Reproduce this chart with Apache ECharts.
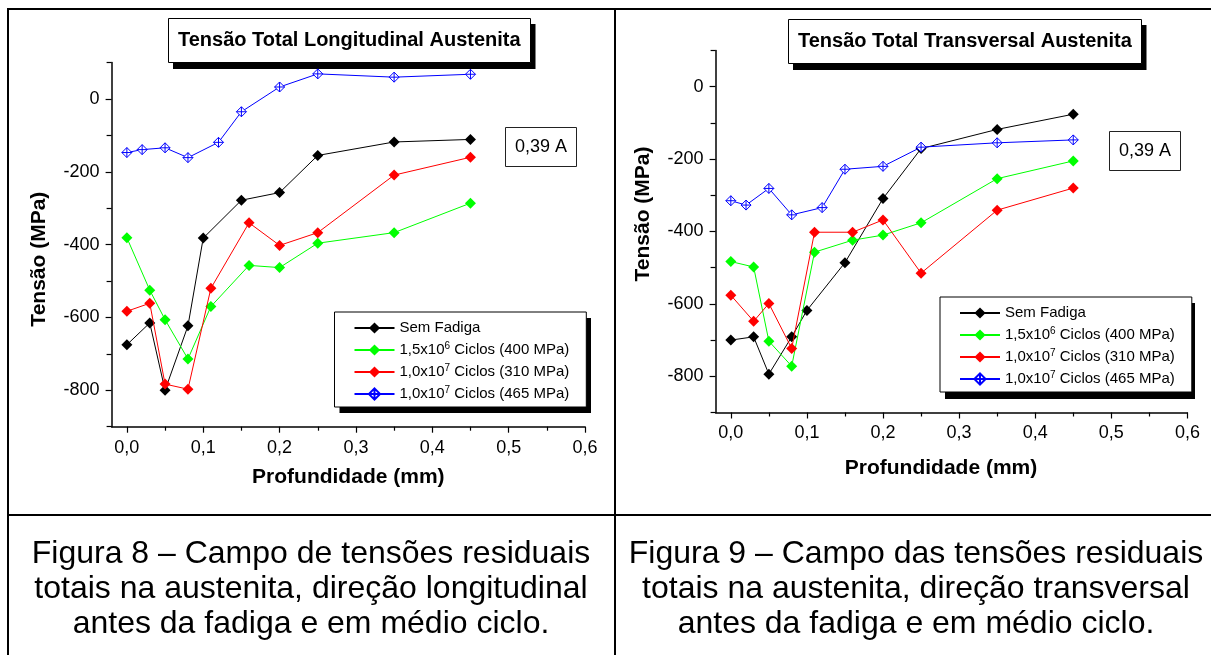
<!DOCTYPE html>
<html>
<head>
<meta charset="utf-8">
<script src="https://cdn.jsdelivr.net/npm/echarts@6/dist/echarts.min.js"></script>
<style>
html,body{margin:0;padding:0;background:#fff;}
#chart{width:1211px;height:655px;}
</style>
</head>
<body>
<div id="chart"></div>
<script>
// ---- data ----
const seriesNames = ['Sem Fadiga', '1,5x10^6 Ciclos (400 MPa)', '1,0x10^7 Ciclos (310 MPa)', '1,0x10^7 Ciclos (465 MPa)'];
const seriesColors = ['#000000', '#00ff00', '#ff0000', '#0000ff'];

const depthSem   = [0, 0.03, 0.05, 0.08, 0.10, 0.15, 0.20, 0.25, 0.35, 0.45];
const depth400   = [0, 0.03, 0.05, 0.08, 0.11, 0.16, 0.20, 0.25, 0.35, 0.45];
const depth310   = [0, 0.03, 0.05, 0.08, 0.11, 0.16, 0.20, 0.25, 0.35, 0.45];
const depth465   = [0, 0.02, 0.05, 0.08, 0.12, 0.15, 0.20, 0.25, 0.35, 0.45];

// Figura 8 - longitudinal
const longSem = [-675, -615, -800, -623, -382, -278, -257, -155, -118, -111];
const long400 = [-381, -525, -606, -714, -570, -457, -463, -396, -367, -286];
const long310 = [-583, -561, -783, -797, -520, -340, -402, -367, -209, -160];
const long465 = [-147, -139, -134, -161, -119, -35, 33, 69, 60, 68];

// Figura 9 - transversal
const transSem = [-700, -691, -794, -691, -618, -486, -309, -171, -118, -76];
const trans400 = [-483, -498, -703, -772, -457, -424, -410, -376, -254, -205];
const trans310 = [-576, -648, -599, -723, -402, -402, -368, -515, -341, -280];
const trans465 = [-315, -327, -281, -354, -334, -228, -220, -167, -155, -147];

const xMajorTicks = [0, 0.1, 0.2, 0.3, 0.4, 0.5, 0.6];
const xMinorTicks = [0.05, 0.15, 0.25, 0.35, 0.45, 0.55];
const yLabelTicks = [-800, -600, -400, -200, 0];
const yMinorTicks = [-900, -700, -500, -300, -100, 100];

const chartTitles = ['Tensão Total Longitudinal Austenita', 'Tensão Total Transversal Austenita'];
const boxLabel = '0,39 A';
const xName = 'Profundidade (mm)';
const yName = 'Tensão (MPa)';
const caption8 = ['Figura 8 – Campo de tensões residuais', 'totais na austenita, direção longitudinal', 'antes da fadiga e em médio ciclo.'];
const caption9 = ['Figura 9 – Campo das tensões residuais', 'totais na austenita, direção transversal', 'antes da fadiga e em médio ciclo.'];

// ---- build ----
const FONT = 'Liberation Sans, Arial, Helvetica, sans-serif';
const crossDiamond = 'path://M0,-10L10,0L0,10L-10,0Z M0,-10L0,10 M-10,0L10,0';

function pairs(xs, ys) { return xs.map((x, i) => [x, ys[i]]); }

function makeSeries(gi, xs, ys, idx) {
  const isBlue = idx === 3;
  return {
    type: 'line',
    name: seriesNames[idx],
    xAxisIndex: gi * 2,
    yAxisIndex: gi * 2,
    data: pairs(xs, ys),
    symbol: isBlue ? crossDiamond : 'diamond',
    symbolSize: isBlue ? 10 : 11,
    lineStyle: { color: seriesColors[idx], width: 1 },
    itemStyle: isBlue
      ? { color: '#ffffff', borderColor: seriesColors[idx], borderWidth: 1 }
      : { color: seriesColors[idx], borderWidth: 0 },
    emphasis: { disabled: true },
    z: 3 + idx
  };
}

function xAxes(gi) {
  const base = {
    gridIndex: gi, type: 'value', min: -0.02, max: 0.6, position: 'bottom',
    splitLine: { show: false }
  };
  return [
    Object.assign({}, base, {
      axisLine: { show: true, onZero: false, lineStyle: { color: '#000', width: 1.5 } },
      axisTick: { show: true, length: 6, customValues: xMajorTicks, lineStyle: { color: '#000', width: 1.2 } },
      axisLabel: {
        show: true, customValues: xMajorTicks, margin: 12, fontSize: 18, color: '#000', fontFamily: FONT,
        formatter: v => v.toFixed(1).replace('.', ',')
      },
      name: xName, nameLocation: 'middle', nameGap: gi === 0 ? 40 : 45,
      nameTextStyle: { fontSize: 21, fontWeight: 'bold', color: '#000', fontFamily: FONT,
        padding: gi === 0 ? 0 : [0, 21, 0, 0] }
    }),
    Object.assign({}, base, {
      axisLine: { show: false, onZero: false },
      axisTick: { show: true, length: 4, customValues: xMinorTicks, lineStyle: { color: '#000', width: 1.2 } },
      axisLabel: { show: false }
    })
  ];
}

function yAxes(gi) {
  const base = {
    gridIndex: gi, type: 'value', min: -900, max: 100, position: 'left',
    splitLine: { show: false }
  };
  return [
    Object.assign({}, base, {
      axisLine: { show: true, onZero: false, lineStyle: { color: '#000', width: 1.5 } },
      axisTick: { show: true, length: 6, customValues: yLabelTicks, lineStyle: { color: '#000', width: 1.2 } },
      axisLabel: { show: true, customValues: yLabelTicks, margin: 12, fontSize: 18, color: '#000', fontFamily: FONT },
      name: yName, nameLocation: 'middle', nameGap: 62,
      nameTextStyle: { fontSize: 21, fontWeight: 'bold', color: '#000', fontFamily: FONT,
        padding: gi === 0 ? [0, 29, 0, 0] : [0, 0, 0, 35] }
    }),
    Object.assign({}, base, {
      axisLine: { show: false, onZero: false },
      axisTick: { show: true, length: 5, customValues: yMinorTicks, lineStyle: { color: '#000', width: 1.2 } },
      axisLabel: { show: false }
    })
  ];
}

function legendFmt(n) { return n.replace(/10\^(\d)/, '10{sup|$1}'); }

function makeLegend(left, top) {
  return {
    orient: 'vertical', left: left, top: top, z: 10,
    data: seriesNames, selectedMode: false,
    itemWidth: 40, itemHeight: 14, itemGap: 4,
    padding: [7, 17, 4, 19],
    backgroundColor: '#fff', borderColor: '#000', borderWidth: 1,
    formatter: legendFmt,
    textStyle: {
      fontSize: 15, lineHeight: 18, color: '#000', fontFamily: FONT,
      rich: { sup: { fontSize: 10, lineHeight: 10, verticalAlign: 'top', color: '#000', fontFamily: FONT } }
    }
  };
}

function makeTitle(text, left, top) {
  return {
    text: text, left: left, top: top, padding: [12, 10, 13, 10], z: 10,
    backgroundColor: '#fff', borderColor: '#000', borderWidth: 1,
    textStyle: { fontSize: 20, fontWeight: 'bold', color: '#000', fontFamily: FONT }
  };
}

function makeBox(text, left, top) {
  return {
    text: text, left: left, top: top, padding: [11, 10, 11, 10], z: 10,
    backgroundColor: '#fff', borderColor: '#222', borderWidth: 1,
    textStyle: { fontSize: 18, fontWeight: 'normal', color: '#000', fontFamily: FONT }
  };
}

function line(x1, y1, x2, y2) {
  return { type: 'line', silent: true, z: 100, shape: { x1, y1, x2, y2 }, style: { stroke: '#000', lineWidth: 2 } };
}

// solid drop shadow behind a framed box (title / legend)
function shadow(x1, y1, x2, y2) {
  return { type: 'rect', silent: true, z: 5, shape: { x: x1, y: y1, width: x2 - x1, height: y2 - y1 }, style: { fill: '#000' } };
}

function caption(lines, x) {
  return {
    type: 'text', silent: true, x: x, y: 537, z: 100,
    style: { text: lines.join('\n'), font: '32px ' + FONT, fill: '#000', textAlign: 'center', textVerticalAlign: 'top', lineHeight: 35 }
  };
}

const option = {
  animation: false,
  backgroundColor: '#fff',
  textStyle: { fontFamily: FONT },
  title: [
    makeTitle(chartTitles[0], 168, 18),
    makeTitle(chartTitles[1], 788, 19),
    makeBox(boxLabel, 505, 127),
    makeBox(boxLabel, 1109, 131)
  ],
  legend: [makeLegend(334.5, 312), makeLegend(940, 297)],
  grid: [
    { left: 111.6, top: 62.6, width: 473.4, height: 364.1, containLabel: false },
    { left: 715.6, top: 50.5, width: 471.8, height: 362, containLabel: false }
  ],
  xAxis: xAxes(0).concat(xAxes(1)),
  yAxis: yAxes(0).concat(yAxes(1)),
  series: [
    makeSeries(0, depthSem, longSem, 0),
    makeSeries(0, depth400, long400, 1),
    makeSeries(0, depth310, long310, 2),
    makeSeries(0, depth465, long465, 3),
    makeSeries(1, depthSem, transSem, 0),
    makeSeries(1, depth400, trans400, 1),
    makeSeries(1, depth310, trans310, 2),
    makeSeries(1, depth465, trans465, 3)
  ],
  graphic: [
    shadow(173, 24, 535.5, 69),
    shadow(793, 25, 1146.5, 70),
    shadow(339.5, 318, 591, 413),
    shadow(945, 303, 1195, 399),
    line(7, 9, 1211, 9),
    line(8, 8, 8, 655),
    line(615, 8, 615, 655),
    line(7, 515, 1211, 515),
    caption(caption8, 311),
    caption(caption9, 916)
  ]
};

const chart = echarts.init(document.getElementById('chart'), null, { renderer: 'canvas' });
chart.setOption(option);
</script>
</body>
</html>
